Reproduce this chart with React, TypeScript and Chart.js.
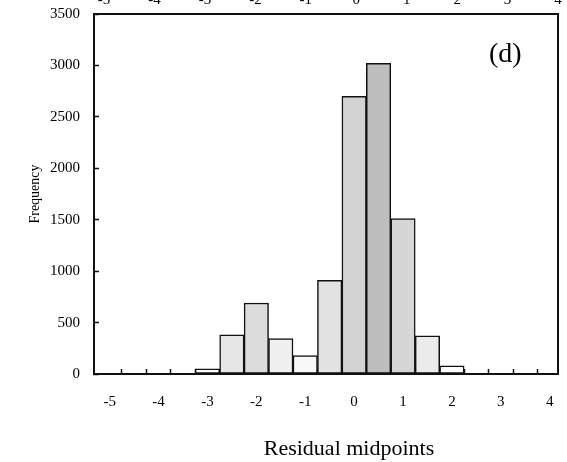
import React, { useEffect, useRef } from "react";
import { Chart, registerables } from "chart.js";

Chart.register(...registerables);

// ---- data ----
const binMidpoints = [-3, -2.5, -2, -1.5, -1, -0.5, 0, 0.5, 1, 1.5, 2];
const frequencies = [50, 380, 690, 345, 180, 910, 2700, 3020, 1510, 370, 80];
const xTickLabels = [-5, -4, -3, -2, -1, 0, 1, 2, 3, 4];
const binEdgeTicks = [
  -4.75, -4.25, -3.75, -3.25, -2.75, -2.25, -1.75, -1.25, -0.75, -0.25,
  0.25, 0.75, 1.25, 1.75, 2.25, 2.75, 3.25, 3.75,
];
const topTickLabels = [-5, -4, -3, -2, -1, 0, 1, 2, 3, 4];
const yTickValues = [0, 500, 1000, 1500, 2000, 2500, 3000, 3500];

// ---- styles ----
const barFills = [
  "#ffffff", "#e6e6e6", "#dcdcdc", "#f0f0f0", "#f8f8f8", "#e2e2e2",
  "#d2d2d2", "#bdbdbd", "#d6d6d6", "#ebebeb", "#ffffff",
];
const SERIF = "'Liberation Serif', 'Times New Roman', serif";
const INK = "#111";
const X_MIN = -5.32;
const X_MAX = 4.17;

export default function App() {
  const ref = useRef<HTMLCanvasElement | null>(null);

  useEffect(() => {
    if (!ref.current) return;
    Chart.defaults.font.family = SERIF;
    Chart.defaults.color = "#000";

    const chart = new Chart(ref.current, {
      type: "bar",
      data: {
        datasets: [
          {
            data: binMidpoints.map((x, i) => ({ x, y: frequencies[i] })),
            backgroundColor: barFills,
            borderColor: INK,
            borderWidth: 1.5,
            borderSkipped: false,
            barPercentage: 1,
            categoryPercentage: 1,
            xAxisID: "x",
            yAxisID: "y",
          } as any,
        ],
      },
      options: {
        animation: false,
        responsive: false,
        events: [],
        layout: { padding: 0 },
        plugins: { legend: { display: false }, tooltip: { enabled: false } },
        scales: {
          xEdges: {
            type: "linear",
            position: "bottom",
            weight: 0,
            offset: false,
            min: X_MIN,
            max: X_MAX,
            afterBuildTicks: (s: any) => {
              s.ticks = binEdgeTicks.map((v) => ({ value: v }));
            },
            ticks: { display: false },
            grid: {
              offset: false,
              drawOnChartArea: false,
              tickLength: -5,
              tickWidth: 1.5,
              tickColor: INK,
            },
            border: { display: false },
            afterFit: (s: any) => {
              s.height = 0;
              s.paddingLeft = 0;
              s.paddingRight = 0;
            },
          },
          x: {
            type: "linear",
            position: "bottom",
            weight: 1,
            offset: false,
            min: X_MIN,
            max: X_MAX,
            afterBuildTicks: (s: any) => {
              s.ticks = xTickLabels.map((v) => ({ value: v }));
            },
            ticks: {
              autoSkip: false,
              maxRotation: 0,
              padding: 19,
              font: { size: 15 },
              color: "#000",
              callback: (v: any) => String(v),
            },
            grid: { offset: false, drawOnChartArea: false, drawTicks: false },
            border: { color: INK, width: 2 },
            afterFit: (s: any) => {
              s.height = 88;
              s.paddingLeft = 0;
              s.paddingRight = 0;
            },
          },
          x2: {
            type: "linear",
            position: "top",
            offset: false,
            min: -5.2,
            max: 4,
            afterBuildTicks: (s: any) => {
              s.ticks = topTickLabels.map((v) => ({ value: v }));
            },
            ticks: {
              autoSkip: false,
              maxRotation: 0,
              padding: 5,
              font: { size: 15 },
              color: "#000",
              callback: (v: any) => String(v),
            },
            grid: { offset: false, drawOnChartArea: false, drawTicks: false },
            border: { color: INK, width: 2 },
            afterFit: (s: any) => {
              s.height = 34;
              s.paddingLeft = 0;
              s.paddingRight = 0;
            },
          },
          y: {
            type: "linear",
            position: "left",
            min: 0,
            max: 3500,
            afterBuildTicks: (s: any) => {
              s.ticks = yTickValues.map((v) => ({ value: v }));
            },
            ticks: {
              padding: 19,
              font: { size: 15 },
              color: "#000",
              callback: (v: any) => String(v),
            },
            grid: {
              drawOnChartArea: false,
              tickLength: -5,
              tickWidth: 1.5,
              tickColor: INK,
            },
            border: { color: INK, width: 2 },
            title: {
              display: true,
              text: "Frequency",
              font: { size: 14 },
              color: "#000",
              padding: { top: 27, bottom: 0 },
            },
            afterFit: (s: any) => {
              s.width = 94;
            },
          },
          y2: {
            type: "linear",
            position: "right",
            min: 0,
            max: 3500,
            ticks: { display: false },
            grid: { drawOnChartArea: false, drawTicks: false },
            border: { color: INK, width: 2 },
            afterFit: (s: any) => {
              s.width = 9;
            },
          },
        },
      } as any,
    });

    return () => chart.destroy();
  }, []);

  return (
    <div
      style={{
        position: "absolute",
        left: 0,
        top: 0,
        width: 567,
        height: 462,
        overflow: "hidden",
        background: "#fff",
      }}
    >
      <canvas
        ref={ref}
        width={567}
        height={482}
        style={{ position: "absolute", left: 0, top: -20 }}
      />
      <div
        style={{
          position: "absolute",
          left: 489,
          top: 39,
          fontFamily: SERIF,
          fontSize: 28,
          lineHeight: "28px",
          color: "#000",
          whiteSpace: "nowrap",
        }}
      >
        (d)
      </div>
      <div
        style={{
          position: "absolute",
          left: 0,
          width: 698,
          top: 437,
          textAlign: "center",
          fontFamily: SERIF,
          fontSize: 22,
          lineHeight: "22px",
          color: "#000",
          whiteSpace: "nowrap",
        }}
      >
        Residual midpoints
      </div>
    </div>
  );
}
